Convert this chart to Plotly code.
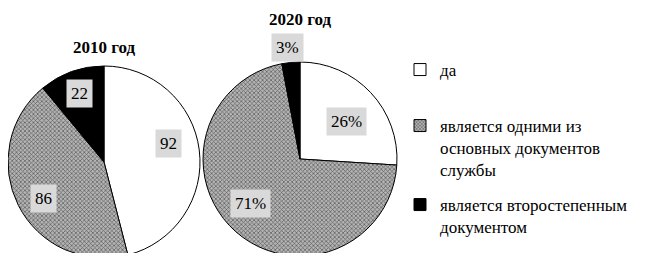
import plotly.graph_objects as go

labels = ["да", "является одними из<br>основных документов<br>службы", "является второстепенным<br>документом"]
values_2010 = [92, 86, 22]
values_2020 = [26, 71, 3]
text_2010 = ["92", "86", "22"]
text_2020 = ["26%", "71%", "3%"]
titles = ["2010 год", "2020 год"]

W, H = 648, 253
OFF = 8  # page body margin: figure pixel = screen pixel - OFF
serif = "Liberation Serif"

fills = ["white", "#b4b4b4", "black"]
shapes = ["", "x", ""]
PAT = dict(size=3, solidity=0.4, fgcolor="black", fillmode="overlay")

def px(x):
    return (x - OFF) / W

def py(y):
    return 1 - (y - OFF) / H

def pie(vals, cx, cy, r):
    return go.Pie(
        labels=labels, values=vals, sort=False, direction="clockwise", rotation=0,
        textinfo="none", hoverinfo="label+value",
        marker=dict(colors=fills, line=dict(color="black", width=1),
                    pattern=dict(shape=shapes, **PAT)),
        domain=dict(x=[px(cx - r), px(cx + r)], y=[max(0, py(cy + r)), py(cy - r)]),
        showlegend=False,
    )

fig = go.Figure()
fig.add_trace(pie(values_2010, 104, 162, 96))
fig.add_trace(pie(values_2020, 300, 159, 97))

# legend entries (one legend per entry so each can be placed like the original)
legend_ids = ["legend", "legend2", "legend3"]
for lbl, col, shp, lid in zip(labels, fills, shapes, legend_ids):
    fig.add_trace(go.Bar(
        x=[None], y=[None], name=lbl, legend=lid, showlegend=True, hoverinfo="skip",
        marker=dict(color=col, line=dict(color="black", width=1),
                    pattern=dict(shape=shp, **PAT)),
    ))

ann = []
def lab(txt, x, y):
    ann.append(dict(text=txt, x=px(x), y=py(y), xref="paper", yref="paper",
                    xanchor="center", yanchor="middle",
                    showarrow=False, bgcolor="#d9d9d9", borderpad=4,
                    font=dict(family=serif, size=17, color="black")))

# label placements (screen pixel positions of label boxes)
lab(text_2010[0], 168, 143)
lab(text_2010[1], 43, 198)
lab(text_2010[2], 79, 93)
lab(text_2020[0], 346, 121)
lab(text_2020[1], 250, 203)
lab(text_2020[2], 287, 48)

for t, x, y in [(titles[0], 104, 47), (titles[1], 300, 20)]:
    ann.append(dict(text="<b>" + t + "</b>", x=px(x), y=py(y), xref="paper", yref="paper",
                    xanchor="center", yanchor="middle",
                    showarrow=False, font=dict(family=serif, size=17, color="black")))

def leg(top):
    return dict(x=px(400), y=py(top), xanchor="left", yanchor="top",
                font=dict(family=serif, size=17, color="black"),
                valign="top", itemwidth=30, bgcolor="rgba(0,0,0,0)")

fig.update_layout(
    width=W, height=H, margin=dict(l=0, r=0, t=0, b=0),
    paper_bgcolor="white", plot_bgcolor="white",
    annotations=ann,
    xaxis=dict(visible=False), yaxis=dict(visible=False),
    legend=leg(52), legend2=leg(108), legend3=leg(187),
)

fig.write_html("out.html")
